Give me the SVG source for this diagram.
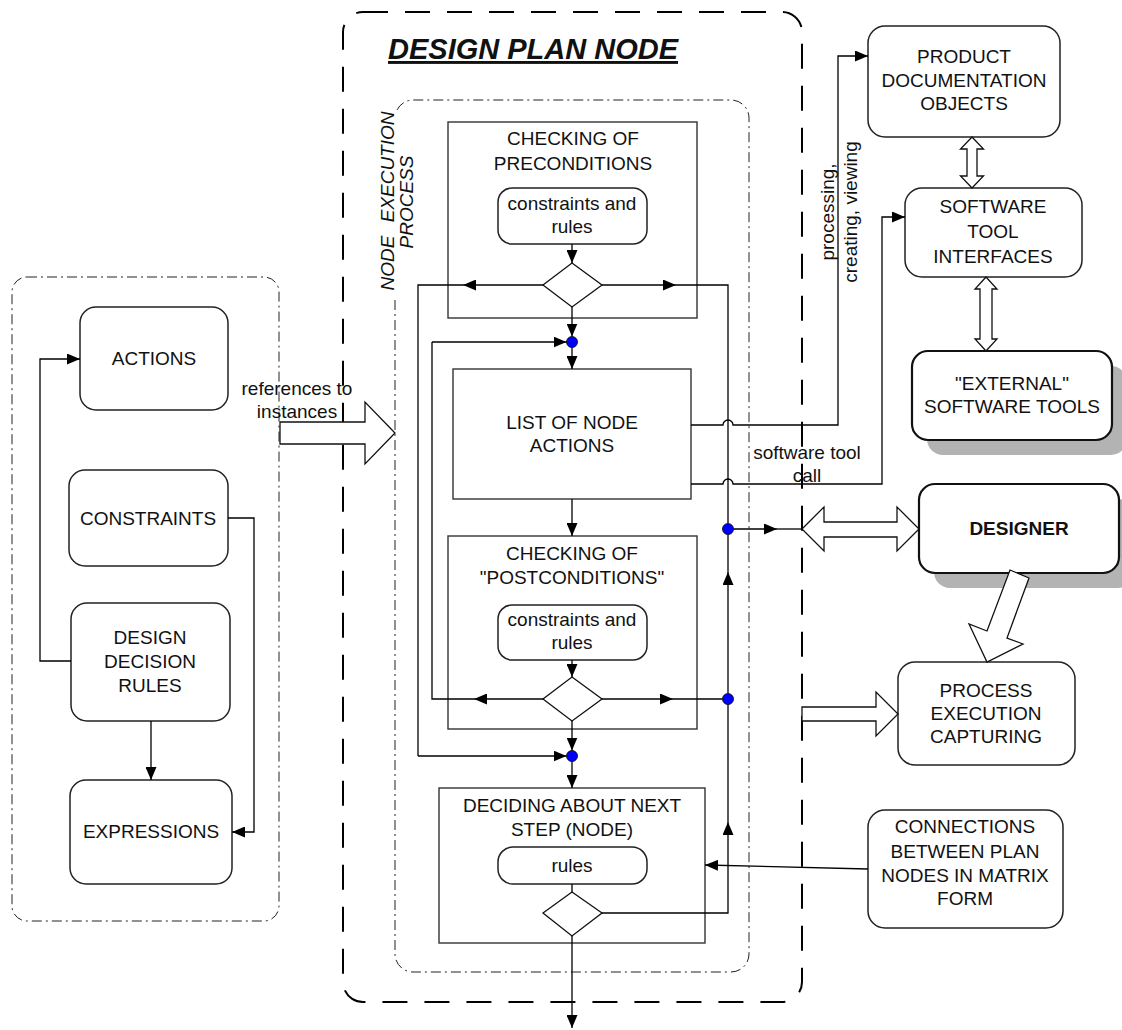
<svg xmlns="http://www.w3.org/2000/svg" width="1122" height="1030" viewBox="0 0 1122 1030">
  <defs>
    <marker id="ah" markerUnits="userSpaceOnUse" markerWidth="13" markerHeight="11" refX="13" refY="5.5" orient="auto">
      <path d="M0,0 L13,5.5 L0,11 z" fill="#000"/>
    </marker>
    <style>
      text { font-family: "Liberation Sans", Arial, sans-serif; font-size: 19px; fill: #111; text-anchor: middle; }
      .title { font-size: 29px; font-weight: bold; font-style: italic; text-anchor: start; text-decoration: underline; }
      .ital { font-style: italic; }
      .bold { font-weight: bold; }
      .rbox { fill: #fff; stroke: #222; stroke-width: 1.5; }
      .sbox { fill: #fff; stroke: #111; stroke-width: 2.2; }
      .shadow { fill: #b3b3b3; stroke: none; }
      .pbox { fill: none; stroke: #333; stroke-width: 1.4; }
      .dia { fill: #fff; stroke: #111; stroke-width: 1.3; }
      .dashed { fill: none; stroke: #000; stroke-width: 2; stroke-dasharray: 25 17; }
      .dashdot { fill: none; stroke: #222; stroke-width: 1; stroke-dasharray: 10 4 2 4; }
      .ln { fill: none; stroke: #000; stroke-width: 1.3; }
      .ar { fill: none; stroke: #000; stroke-width: 1.3; marker-end: url(#ah); }
      .hollow { fill: #fff; stroke: #111; stroke-width: 1.3; }
      .dot { fill: #0000ff; stroke: #000; stroke-width: 0.8; }
    </style>
  </defs>

  <!-- outer frame of the plan node -->
  <g id="design-plan-node">
    <rect class="dashed" x="343" y="12" width="459" height="990" rx="20"/>
    <text class="title" x="388" y="59">DESIGN PLAN NODE</text>
  </g>

  <!-- node execution process frame (left edge broken by its label) -->
  <g id="node-execution-process">
    <path class="dashdot" d="M395,300 V954 A18,18 0 0 0 413,972 H731 A18,18 0 0 0 749,954 V118 A18,18 0 0 0 731,100 H413 A18,18 0 0 0 397,110"/>
    <text class="ital" transform="translate(394,201) rotate(-90)" word-spacing="8">NODE EXECUTION</text>
    <text class="ital" transform="translate(413,202) rotate(-90)">PROCESS</text>
  </g>

  <!-- library of plan objects -->
  <g id="library-frame">
    <rect class="dashdot" x="12" y="277" width="267" height="644" rx="15"/>
  </g>
  <g id="actions">
    <rect class="rbox" x="80" y="307" width="148" height="103" rx="16"/>
    <text x="154" y="365">ACTIONS</text>
  </g>
  <g id="constraints">
    <rect class="rbox" x="69" y="470" width="159" height="96" rx="16"/>
    <text x="148" y="525">CONSTRAINTS</text>
  </g>
  <g id="design-decision-rules">
    <rect class="rbox" x="71" y="603" width="159" height="118" rx="16"/>
    <text x="150" y="644">DESIGN</text>
    <text x="150" y="668">DECISION</text>
    <text x="150" y="692">RULES</text>
  </g>
  <g id="expressions">
    <rect class="rbox" x="70" y="780" width="162" height="104" rx="16"/>
    <text x="151" y="838">EXPRESSIONS</text>
  </g>

  <!-- execution steps -->
  <g id="checking-preconditions">
    <rect class="pbox" x="448" y="122" width="249" height="196"/>
    <text x="573" y="145">CHECKING OF</text>
    <text x="573" y="170">PRECONDITIONS</text>
    <rect class="rbox" x="498" y="188" width="149" height="56" rx="14"/>
    <text x="572" y="210">constraints and</text>
    <text x="572" y="233">rules</text>
    <polygon class="dia" points="572,263 602,285 572,307 543,285"/>
  </g>
  <g id="list-of-node-actions">
    <rect class="pbox" x="453" y="369" width="238" height="130"/>
    <text x="572" y="429">LIST OF NODE</text>
    <text x="572" y="452">ACTIONS</text>
  </g>
  <g id="checking-postconditions">
    <rect class="pbox" x="448" y="536" width="249" height="193"/>
    <text x="572" y="560">CHECKING OF</text>
    <text x="572" y="584">"POSTCONDITIONS"</text>
    <rect class="rbox" x="498" y="605" width="149" height="55" rx="14"/>
    <text x="572" y="626">constraints and</text>
    <text x="572" y="649">rules</text>
    <polygon class="dia" points="572,677 602,699 572,721 543,699"/>
  </g>
  <g id="deciding-next-step">
    <rect class="pbox" x="439" y="788" width="266" height="155"/>
    <text x="572" y="812">DECIDING ABOUT NEXT</text>
    <text x="572" y="836">STEP (NODE)</text>
    <rect class="rbox" x="498" y="847" width="149" height="37" rx="15"/>
    <text x="572" y="872">rules</text>
    <polygon class="dia" points="572,892 602,913 572,936 543,913"/>
  </g>

  <!-- outside objects -->
  <g id="product-documentation-objects">
    <rect class="rbox" x="868" y="26" width="192" height="111" rx="17"/>
    <text x="964" y="63">PRODUCT</text>
    <text x="964" y="87">DOCUMENTATION</text>
    <text x="964" y="110">OBJECTS</text>
  </g>
  <g id="software-tool-interfaces">
    <rect class="rbox" x="905" y="188" width="177" height="89" rx="17"/>
    <text x="993" y="213">SOFTWARE</text>
    <text x="993" y="238">TOOL</text>
    <text x="993" y="263">INTERFACES</text>
  </g>
  <g id="external-software-tools">
    <rect class="shadow" x="927" y="366" width="200" height="89" rx="16"/>
    <rect class="sbox" x="912" y="351" width="200" height="89" rx="16"/>
    <text x="1012" y="390">"EXTERNAL"</text>
    <text x="1012" y="413">SOFTWARE TOOLS</text>
  </g>
  <g id="designer">
    <rect class="shadow" x="934" y="499" width="200" height="89" rx="16"/>
    <rect class="sbox" x="919" y="484" width="200" height="89" rx="16"/>
    <text class="bold" x="1019" y="535">DESIGNER</text>
  </g>
  <g id="process-execution-capturing">
    <rect class="rbox" x="898" y="662" width="177" height="103" rx="17"/>
    <text x="986" y="697">PROCESS</text>
    <text x="986" y="720">EXECUTION</text>
    <text x="986" y="743">CAPTURING</text>
  </g>
  <g id="connections-matrix">
    <rect class="rbox" x="868" y="810" width="195" height="118" rx="17"/>
    <text x="965" y="833">CONNECTIONS</text>
    <text x="965" y="858">BETWEEN PLAN</text>
    <text x="965" y="882">NODES IN MATRIX</text>
    <text x="965" y="905">FORM</text>
  </g>

  <!-- connectors -->
  <g id="connectors">
    <!-- library links -->
    <path class="ar" d="M228,518 H254 V832 H232"/>
    <path class="ar" d="M71,661 H40 V359 H80"/>
    <path class="ar" d="M151,721 V780"/>

    <!-- preconditions -->
    <path class="ar" d="M572,244 V263"/>
    <path class="ar" d="M572,307 V336.5"/>
    <path class="ar" d="M543,285 H463"/>
    <path class="ln" d="M463,285 H418 V756"/>
    <path class="ar" d="M418,756 H566.5"/>
    <path class="ar" d="M602,285 H676"/>
    <path class="ln" d="M676,285 H728 V523.5"/>

    <!-- node actions -->
    <path class="ar" d="M572,347.5 V369"/>
    <path class="ar" d="M572,499 V536"/>
    <path class="ar" d="M691,425 H723 A5,5 0 0 1 733,425 H838 V56 H868"/>
    <path class="ar" d="M691,484 H723 A5,5 0 0 1 733,484 H882 V217 H905"/>

    <!-- postconditions -->
    <path class="ar" d="M572,660 V677"/>
    <path class="ar" d="M543,699 H474"/>
    <path class="ln" d="M474,699 H432 V342"/>
    <path class="ar" d="M432,342 H566.5"/>
    <path class="ar" d="M602,699 H673"/>
    <path class="ln" d="M673,699 H722.5"/>
    <path class="ar" d="M572,721 V750.5"/>

    <!-- deciding -->
    <path class="ar" d="M572,761.5 V788"/>
    <path class="ln" d="M572,884 V892"/>
    <path class="ar" d="M602,913 H728 V822"/>
    <path class="ln" d="M728,822 V704.5"/>
    <path class="ar" d="M728,693.5 V572"/>
    <path class="ln" d="M728,572 V534.5"/>
    <path class="ar" d="M572,936 V1028"/>
    <path class="ar" d="M868,869 L705,865"/>

    <!-- to the designer -->
    <path class="ar" d="M733.5,529 H777"/>
    <path class="ln" d="M777,529 H802"/>

    <!-- junction dots -->
    <circle class="dot" cx="572" cy="342" r="5.5"/>
    <circle class="dot" cx="572" cy="756" r="5.5"/>
    <circle class="dot" cx="728" cy="529" r="5.5"/>
    <circle class="dot" cx="728" cy="699" r="5.5"/>

    <!-- block arrows -->
    <polygon class="hollow" points="280,422 365,422 365,402 395,433 365,464 365,444 280,444"/>
    <polygon class="hollow" points="972,137 983.5,149 977,149 977,176 983.5,176 972,188 960.5,176 967,176 967,149 960.5,149"/>
    <polygon class="hollow" points="986,277 997,289 992,289 992,339 997,339 986,351 975,339 980,339 980,289 975,289"/>
    <polygon class="hollow" points="802,529 824,507 824,522 897,522 897,507 919,529 897,551 897,537 824,537 824,551"/>
    <polygon class="hollow" points="802,707 876,707 876,692 898,714 876,736 876,721 802,721"/>
    <polygon class="hollow" points="1010,570 1029,578 1007,638 1023,644 987,662 969,624 987,631"/>

    <!-- connector labels -->
    <text x="297" y="395">references to</text>
    <text x="297" y="418">instances</text>
    <text transform="translate(834,212) rotate(-90)">processing,</text>
    <text transform="translate(857,212) rotate(-90)">creating, viewing</text>
    <text x="807" y="459">software tool</text>
    <text x="807" y="482">call</text>
  </g>
</svg>
